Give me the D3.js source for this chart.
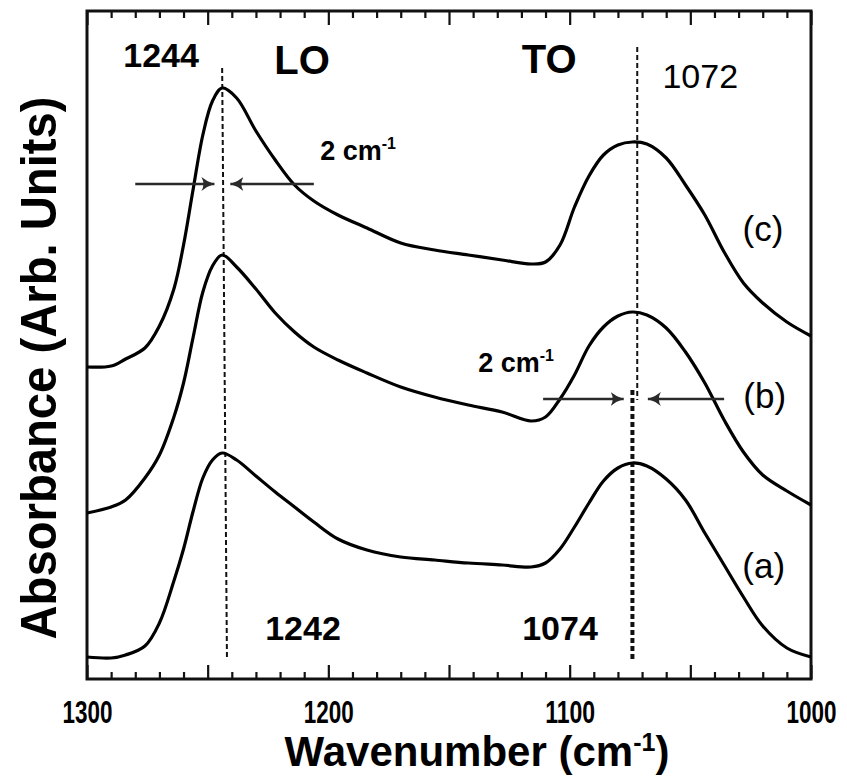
<!DOCTYPE html>
<html><head><meta charset="utf-8">
<script src="https://cdn.jsdelivr.net/npm/d3@7"></script>
<style>body{margin:0;background:#fff}</style>
</head><body><svg id="chart" width="847" height="782"></svg>
<script>
// ---- data ----
const wavenumbers = [1300,1290,1284,1276,1270,1264,1260,1256,1252,1248,1244,1238,1230,1222,1214,1206,1196,1184,1170,1156,1142,1128,1116,1110,1104,1098,1092,1086,1080,1074,1068,1060,1052,1044,1036,1028,1020,1010,1000];
const seriesA = [0.04,0.03,0.06,0.15,0.38,0.80,1.12,1.50,1.83,2.01,2.08,2.01,1.85,1.69,1.54,1.39,1.22,1.11,1.04,1.01,0.98,0.96,0.94,0.98,1.12,1.34,1.58,1.80,1.93,1.98,1.95,1.82,1.61,1.28,0.96,0.64,0.35,0.13,0.04];
const seriesB = [1.48,1.54,1.61,1.83,2.06,2.44,2.78,3.24,3.69,3.95,4.06,3.94,3.72,3.48,3.29,3.14,3.01,2.88,2.74,2.64,2.56,2.49,2.40,2.44,2.62,2.86,3.15,3.34,3.45,3.49,3.46,3.33,3.09,2.78,2.41,2.09,1.86,1.70,1.56];
const seriesC = [2.94,2.95,3.02,3.13,3.35,3.72,4.16,4.72,5.26,5.60,5.73,5.63,5.30,5.01,4.76,4.60,4.46,4.33,4.18,4.11,4.06,4.01,3.97,3.99,4.16,4.54,4.85,5.06,5.16,5.19,5.17,5.03,4.76,4.46,4.09,3.78,3.58,3.39,3.25];
const seriesNames = ["(a)","(b)","(c)"];
const xTickLabels = [1300,1200,1100,1000];
const majorTicks = [1300,1250,1200,1150,1100,1050,1000];
const minorTicks = [1290,1280,1270,1260,1240,1230,1220,1210,1190,1180,1170,1160,1140,1130,1120,1110,1090,1080,1070,1060,1040,1030,1020,1010];
const peakLabels = ["1244","1242","1072","1074"];
const peakLines = [
  {w1:1244, w2:1242, a1:5.93, a2:0.01, heavy:false},
  {w1:1072, w2:1072, a1:6.14, a2:2.61, heavy:false},
  {w1:1074, w2:1074, a1:2.71, a2:0.01, heavy:true}
];
const shiftArrows = [
  {a:4.77, from:1280, to:1247.2},
  {a:4.77, from:1206, to:1240.6},
  {a:2.62, from:1111, to:1077.6},
  {a:2.62, from:1036, to:1067.6}
];

// ---- layout ----
const svg = d3.select("#chart");
const L = 87, R = 811, T = 11, B = 679;
const x = d3.scaleLinear().domain([1300,1000]).range([L,R]);
const y = d3.scaleLinear().domain([-0.18,6.5]).range([B,T]);

const defs = svg.append("defs");
defs.append("marker").attr("id","ah").attr("markerUnits","userSpaceOnUse")
  .attr("viewBox","0 -8 14 16").attr("refX",13).attr("refY",0)
  .attr("markerWidth",14).attr("markerHeight",16).attr("orient","auto")
  .append("path").attr("d","M0,-7 Q6,-2 13,0 Q6,2 0,7 Q4,0 0,-7Z").attr("fill","#2a2a2a");

function tickAxis(gen, pos, vals, len){
  const g = svg.append("g").attr("transform",`translate(0,${pos})`)
    .call(gen(x).tickValues(vals).tickSize(-len).tickFormat(""));
  g.select(".domain").remove();
  g.selectAll("line").attr("stroke","#111").attr("stroke-width",2.2);
}
tickAxis(d3.axisBottom, B, minorTicks, 7);
tickAxis(d3.axisBottom, B, majorTicks, 14);
tickAxis(d3.axisTop, T, minorTicks, 7);
tickAxis(d3.axisTop, T, majorTicks, 14);

const lab = svg.append("g").attr("transform",`translate(0,${B})`)
  .call(d3.axisBottom(x).tickValues(xTickLabels).tickSize(0).tickPadding(0).tickFormat(d3.format("d")));
lab.select(".domain").remove();
lab.selectAll("text").attr("y",44).attr("dy",null)
  .attr("font-family","'Liberation Sans Narrow','Arial Narrow','Liberation Sans',Arial,sans-serif")
  .attr("font-weight","bold").attr("font-size",31).attr("fill","#000")
  .attr("textLength",50).attr("lengthAdjust","spacingAndGlyphs");

svg.append("rect").attr("x",L).attr("y",T).attr("width",R-L).attr("height",B-T)
  .attr("fill","none").attr("stroke","#111").attr("stroke-width",3);

svg.append("g").selectAll("line").data(peakLines).join("line")
  .attr("x1",d=>x(d.w1)).attr("x2",d=>x(d.w2))
  .attr("y1",d=>y(d.a1)).attr("y2",d=>y(d.a2))
  .attr("stroke","#111").attr("stroke-width",d=>d.heavy?4:2)
  .attr("stroke-dasharray","5,3");

const line = d3.line().x((d,i)=>x(wavenumbers[i])).y(d=>y(d)).curve(d3.curveCatmullRom.alpha(0.5));
svg.append("g").selectAll("path").data([seriesA,seriesB,seriesC]).join("path")
  .attr("d",line).attr("fill","none").attr("stroke","#000")
  .attr("stroke-width",3.2).attr("stroke-linejoin","round");

svg.append("g").selectAll("line").data(shiftArrows).join("line")
  .attr("x1",d=>x(d.from)).attr("x2",d=>x(d.to))
  .attr("y1",d=>y(d.a)).attr("y2",d=>y(d.a))
  .attr("stroke","#2a2a2a").attr("stroke-width",2.6).attr("marker-end","url(#ah)");

const F = "'Liberation Sans',Arial,Helvetica,sans-serif";
function txt(s, w, a, size, weight, anchor){
  return svg.append("text").attr("x",x(w)).attr("y",y(a)).attr("font-family",F)
    .attr("font-size",size).attr("font-weight",weight).attr("text-anchor",anchor||"middle")
    .attr("fill","#000").text(s);
}
txt(peakLabels[0], 1269.3, 5.94, 34, "bold");
txt("LO", 1210.9, 5.87, 40, "bold");
txt("TO", 1108.5, 5.88, 40, "bold");
txt(peakLabels[2], 1045.9, 5.73, 34, "normal");
txt(peakLabels[1], 1210.5, 0.21, 34, "bold");
txt(peakLabels[3], 1104, 0.21, 34, "bold");
txt(seriesNames[2], 1019.9, 4.20, 35, "normal");
txt(seriesNames[1], 1019.2, 2.53, 35, "normal");
txt(seriesNames[0], 1019.6, 0.83, 35, "normal");
function shiftLabel(w, a){
  const t = txt("2 cm", w, a, 27, "bold", "start");
  t.append("tspan").attr("font-size",16).attr("dy",-11).text("-1");
}
shiftLabel(1203.4, 5.01);
shiftLabel(1137.9, 2.89);

const xt = svg.append("text").attr("x",477).attr("y",766).attr("text-anchor","middle")
  .attr("font-family","'Liberation Sans Narrow','Arial Narrow','Liberation Sans',Arial,sans-serif")
  .attr("font-weight","bold").attr("font-size",42).attr("fill","#000");
xt.append("tspan").text("Wavenumber (cm");
xt.append("tspan").attr("font-size",25).attr("dy",-15).text("-1");
xt.append("tspan").attr("dy",15).text(")");

svg.append("text").attr("transform","translate(56,368) rotate(-90)").attr("text-anchor","middle")
  .attr("font-family","'Liberation Sans Narrow','Arial Narrow','Liberation Sans',Arial,sans-serif")
  .attr("font-weight","bold").attr("font-size",50).attr("fill","#000")
  .attr("textLength",543).attr("lengthAdjust","spacingAndGlyphs")
  .text("Absorbance (Arb. Units)");
</script></body></html>
